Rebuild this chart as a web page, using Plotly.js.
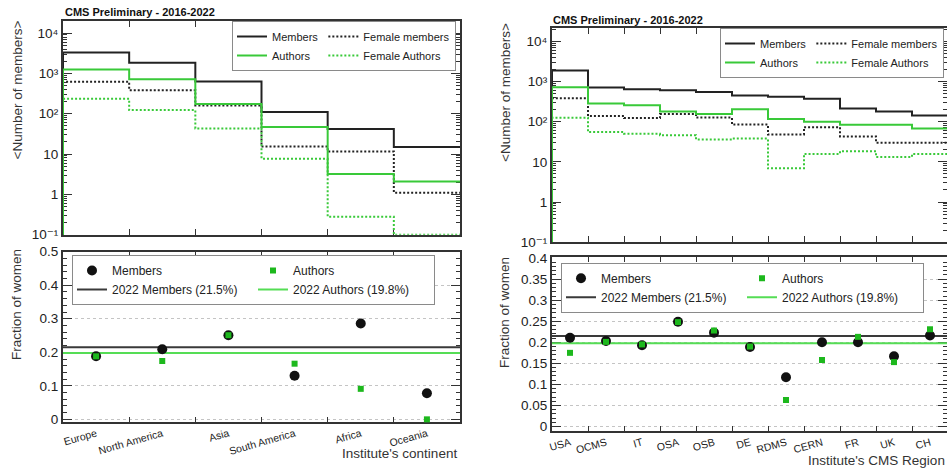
<!DOCTYPE html>
<html>
<head>
<meta charset="utf-8">
<script src="https://cdn.plot.ly/plotly-3.0.1.min.js"></script>
<style>html,body{margin:0;padding:0;background:#fff;}#chart{width:947px;height:470px;}</style>
</head>
<body>
<div id="chart"></div>
<script>
// ---------------- data ----------------
const continents = ['Europe', 'North America', 'Asia', 'South America', 'Africa', 'Oceania'];
const contMembers = [3300, 1850, 630, 110, 42, 15];
const contAuthors = [1250, 720, 175, 47, 3.2, 2.1];
const contFemMembers = [620, 385, 160, 15.5, 11.5, 1.1];
const contFemAuthors = [235, 123, 43, 7.6, 0.28, 0.1];
const contFracMembers = [0.188, 0.209, 0.251, 0.130, 0.286, 0.078];
const contFracAuthors = [0.188, 0.174, 0.251, 0.166, 0.091, 0.0];

const regions = ['USA', 'OCMS', 'IT', 'OSA', 'OSB', 'DE', 'RDMS', 'CERN', 'FR', 'UK', 'CH'];
const regMembers = [1870, 705, 645, 605, 550, 450, 415, 370, 213, 179, 143];
const regAuthors = [720, 283, 258, 180, 155, 205, 116, 100, 84, 84, 68];
const regFemMembers = [385, 138, 123, 155, 127, 85, 48, 73, 43, 30, 30];
const regFemAuthors = [125, 55, 50, 46, 36, 38, 6.9, 15.8, 18.3, 13.2, 15.7];
const regFracMembers = [0.211, 0.203, 0.193, 0.249, 0.223, 0.189, 0.117, 0.200, 0.200, 0.167, 0.216];
const regFracAuthors = [0.175, 0.201, 0.195, 0.248, 0.228, 0.190, 0.063, 0.158, 0.213, 0.153, 0.231];

const members2022 = 0.215;
const authors2022 = 0.198;

const logTickVals = [0.1, 1, 10, 100, 1000, 10000];
const logTickText = ['10\u207B\u00B9', '1', '10', '10\u00B2', '10\u00B3', '10\u2074'];
const fracTickValsL = [0, 0.1, 0.2, 0.3, 0.4, 0.5];
const fracTickTextL = ['0', '0.1', '0.2', '0.3', '0.4', '0.5'];
const fracTickValsR = [0, 0.05, 0.1, 0.15, 0.2, 0.25, 0.3, 0.35, 0.4];
const fracTickTextR = ['0', '0.05', '0.1', '0.15', '0.2', '0.25', '0.3', '0.35', '0.4'];

// ---------------- helpers ----------------
const FONT = 'Liberation Sans, Arial, Helvetica, DejaVu Sans, sans-serif';
const BLACK = '#222222';
const GREEN = '#39c939';
const GREEN_M = '#1db81d';
const FLOOR = 0.1;
const W = 947, H = 470;
const px = v => v / W;
const py = v => 1 - v / H;

function edges(n) { const xs = [0]; for (let i = 0; i <= n; i++) xs.push(i); return xs; }
function steps(v) { return [FLOOR].concat(v, [v[v.length - 1]]); }
function centers(n) { const c = []; for (let i = 0; i < n; i++) c.push(i + 0.5); return c; }
function range0(n) { const c = []; for (let i = 0; i <= n; i++) c.push(i); return c; }

function histTraces(cats, mem, fem, auth, fauth, xa, ya, leg, sfx) {
  const n = cats.length;
  const base = {type: 'scatter', mode: 'lines', xaxis: xa, yaxis: ya, legend: leg, hoverinfo: 'skip', cliponaxis: true};
  return [
    Object.assign({}, base, {name: 'Members', x: edges(n), y: steps(mem), line: {shape: 'hv', color: BLACK, width: 2}, legendgroup: 'a' + sfx, legendrank: 1}),
    Object.assign({}, base, {name: 'Female members', x: edges(n), y: steps(fem), line: {shape: 'hv', color: BLACK, width: 2, dash: '2px,2px'}, legendgroup: 'b' + sfx, legendrank: 3}),
    Object.assign({}, base, {name: 'Female Authors', x: edges(n), y: steps(fauth), line: {shape: 'hv', color: GREEN, width: 2, dash: '2px,2px'}, legendgroup: 'b' + sfx, legendrank: 4}),
    Object.assign({}, base, {name: 'Authors', x: edges(n), y: steps(auth), line: {shape: 'hv', color: GREEN, width: 2}, legendgroup: 'a' + sfx, legendrank: 2})
  ];
}

function fracTraces(cats, fm, fa, xa, ya, leg, sfx) {
  const n = cats.length;
  const base = {type: 'scatter', xaxis: xa, yaxis: ya, legend: leg, hoverinfo: 'skip', cliponaxis: false};
  return [
    Object.assign({}, base, {name: '2022 Members (21.5%)', mode: 'lines', x: [0, n], y: [members2022, members2022], line: {color: '#3a3a3a', width: 2}, legendgroup: 'c' + sfx, legendrank: 2}),
    Object.assign({}, base, {name: '2022 Authors (19.8%)', mode: 'lines', x: [0, n], y: [authors2022, authors2022], line: {color: '#55dd55', width: 2}, legendgroup: 'd' + sfx, legendrank: 4}),
    Object.assign({}, base, {name: 'Members', mode: 'markers', x: centers(n), y: fm, marker: {symbol: 'circle', size: 10, color: '#111'}, legendgroup: 'c' + sfx, legendrank: 1}),
    Object.assign({}, base, {name: 'Authors', mode: 'markers', x: centers(n), y: fa, marker: {symbol: 'square', size: 6, color: GREEN_M}, legendgroup: 'd' + sfx, legendrank: 3})
  ];
}

const data = [].concat(
  histTraces(continents, contMembers, contFemMembers, contAuthors, contFemAuthors, 'x', 'y', 'legend', '1'),
  fracTraces(continents, contFracMembers, contFracAuthors, 'x2', 'y2', 'legend2', '2'),
  histTraces(regions, regMembers, regFemMembers, regAuthors, regFemAuthors, 'x3', 'y3', 'legend3', '3'),
  fracTraces(regions, regFracMembers, regFracAuthors, 'x4', 'y4', 'legend4', '4')
);

const tickFont = {family: FONT, size: 13.5, color: '#222'};
const frame = {showline: true, linecolor: '#333', linewidth: 2, mirror: 'ticks', layer: 'below traces', zeroline: false, showgrid: false, fixedrange: true};

function topX(n, dom, anchor, rng) {
  return Object.assign({}, frame, {domain: dom, anchor: anchor, range: rng, tickmode: 'array', tickvals: range0(n),
    showticklabels: false, ticks: 'inside', ticklen: 6, tickwidth: 1, tickcolor: '#333'});
}
function botX(cats, dom, anchor, rng) {
  return Object.assign({}, frame, {domain: dom, anchor: anchor, range: rng, tickmode: 'array', tickvals: centers(cats.length),
    ticktext: cats, tickangle: -16, ticks: 'inside', ticklen: 0, tickfont: {family: FONT, size: 10.5, color: '#222'},
    minor: {tickmode: 'linear', tick0: 0, dtick: 1, ticks: 'inside', ticklen: 5, tickwidth: 1, tickcolor: '#333', showgrid: false}});
}
function logY(dom, anchor, rng) {
  return Object.assign({}, frame, {domain: dom, anchor: anchor, type: 'log', range: rng, tickmode: 'array',
    tickvals: logTickVals, ticktext: logTickText, ticks: 'inside', ticklen: 9, tickwidth: 1, tickcolor: '#333', tickfont: tickFont,
    minor: {dtick: 'D1', ticks: 'inside', ticklen: 4, tickwidth: 1, tickcolor: '#333', showgrid: false}});
}
function fracY(dom, anchor, rng, tv, tt, mdt) {
  return Object.assign({}, frame, {domain: dom, anchor: anchor, range: rng, tickmode: 'array', tickvals: tv, ticktext: tt,
    ticks: 'inside', ticklen: 9, tickwidth: 1, tickcolor: '#333', tickfont: tickFont,
    showgrid: true, gridcolor: '#c4c4c4', gridwidth: 1, griddash: 'dot',
    minor: {tickmode: 'linear', tick0: 0, dtick: mdt, ticks: 'inside', ticklen: 4, tickwidth: 1, tickcolor: '#333', showgrid: false}});
}

function legendBox(x, y, size, ew) {
  const l = {x: x, y: y, xref: 'paper', yref: 'paper', xanchor: 'left', yanchor: 'top', orientation: 'h', traceorder: 'grouped',
    bgcolor: '#ffffff', bordercolor: '#8a8a8a', borderwidth: 1, font: {family: FONT, size: size, color: '#222'}};
  if (ew) { l.entrywidth = ew; l.entrywidthmode = 'pixels'; }
  return l;
}

const axTitle = {family: FONT, size: 13.5, color: '#333'};
const headFont = {family: FONT, size: 11, color: '#111', weight: 'bold'};
const annotations = [
  {text: 'CMS Preliminary - 2016-2022', x: px(63), y: py(12), xref: 'paper', yref: 'paper', xanchor: 'left', yanchor: 'middle', showarrow: false, font: headFont},
  {text: 'CMS Preliminary - 2016-2022', x: px(551), y: py(19.5), xref: 'paper', yref: 'paper', xanchor: 'left', yanchor: 'middle', showarrow: false, font: headFont},
  {text: '&lt;Number of members&gt;', x: px(17.5), y: py(90), xref: 'paper', yref: 'paper', xanchor: 'center', yanchor: 'middle', textangle: -90, showarrow: false, font: axTitle},
  {text: '&lt;Number of members&gt;', x: px(505), y: py(92), xref: 'paper', yref: 'paper', xanchor: 'center', yanchor: 'middle', textangle: -90, showarrow: false, font: axTitle},
  {text: 'Fraction of women', x: px(16.5), y: py(304.5), xref: 'paper', yref: 'paper', xanchor: 'center', yanchor: 'middle', textangle: -90, showarrow: false, font: axTitle},
  {text: 'Fraction of women', x: px(504), y: py(313), xref: 'paper', yref: 'paper', xanchor: 'center', yanchor: 'middle', textangle: -90, showarrow: false, font: axTitle},
  {text: "Institute's continent", x: px(459), y: py(453), xref: 'paper', yref: 'paper', xanchor: 'right', yanchor: 'middle', showarrow: false, font: axTitle},
  {text: "Institute's CMS Region", x: px(947), y: py(460), xref: 'paper', yref: 'paper', xanchor: 'right', yanchor: 'middle', showarrow: false, font: axTitle}
];

const layout = {
  width: W, height: H,
  margin: {l: 0, r: 0, t: 0, b: 0, pad: 0},
  paper_bgcolor: '#ffffff', plot_bgcolor: '#ffffff',
  font: {family: FONT, color: '#222'},
  showlegend: true,
  xaxis: topX(continents.length, [px(63), px(460)], 'y', [0, continents.length]),
  yaxis: logY([py(234.7), py(21)], 'x', [-1, 4.3]),
  xaxis2: botX(continents, [px(63), px(460)], 'y2', [0, continents.length]),
  yaxis2: fracY([py(421.7), py(251.7)], 'x2', [-0.007, 0.5], fracTickValsL, fracTickTextL, 0.02),
  xaxis3: topX(regions.length, [px(552), 1], 'y3', [0, regions.length * 395 / 396]),
  yaxis3: logY([py(242.3), py(28)], 'x3', [-1, 4.33]),
  xaxis4: botX(regions, [px(552), 1], 'y4', [0, regions.length * 395 / 396]),
  yaxis4: fracY([py(430.7), py(257.3)], 'x4', [-0.01, 0.402], fracTickValsR, fracTickTextR, 0.01),
  legend: legendBox(px(232), py(21), 11, 0),
  legend2: legendBox(px(72), py(255), 12, 136),
  legend3: legendBox(px(720), py(28), 11, 0),
  legend4: legendBox(px(561), py(262.7), 12, 136),
  annotations: annotations
};

Plotly.newPlot('chart', data, layout, {staticPlot: true, displayModeBar: false});
</script>
</body>
</html>
